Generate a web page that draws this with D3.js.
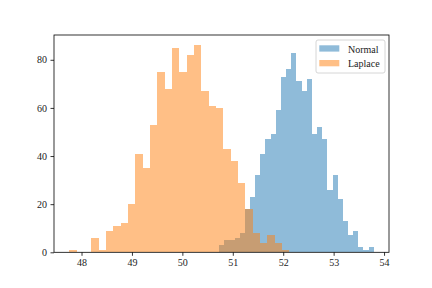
<!DOCTYPE html>
<html><head><meta charset="utf-8">
<script src="https://cdn.jsdelivr.net/npm/d3@7"></script>
<style>
body{margin:0;background:#fff;}
text{font-family:"Liberation Serif","DejaVu Serif",serif;}
</style></head>
<body><svg id="c" width="432" height="288"></svg>
<script>
// Histogram data (30 bins each)
const normalRange = [50.727, 53.796];
const normalCounts = [3,5,5,6,8,18,23,32,41,47,49,59,73,76,83,71,67,72,49,52,47,26,32,22,13,7,9,2,1,2];
const laplaceRange = [47.756, 52.119];
const laplaceCounts = [1,0,0,6,1,9,11,12,20,41,35,53,75,68,85,75,82,86,67,61,60,43,38,29,18,8,4,7,4,1];
const seriesNames = ["Normal","Laplace"];
const seriesColors = ["#1f77b4","#ff7f0e"];
const xTicks = [48,49,50,51,52,53,54];
const yTicks = [0,20,40,60,80];

const W=432,H=288;
const m={left:54,right:389,top:35,bottom:252.3};
const svg=d3.select("#c");

const dmin=Math.min(normalRange[0],laplaceRange[0]);
const dmax=Math.max(normalRange[1],laplaceRange[1]);
const pad=(dmax-dmin)*0.05;
const x=d3.scaleLinear().domain([dmin-pad,dmax+pad]).range([m.left,m.right]);
const ymax=d3.max(normalCounts.concat(laplaceCounts))*1.05;
const y=d3.scaleLinear().domain([0,ymax]).range([m.bottom,m.top]);

function bins(range,counts){
  const w=(range[1]-range[0])/counts.length;
  return counts.map((c,i)=>({x0:range[0]+i*w,x1:range[0]+(i+1)*w,c}));
}
const series=[bins(normalRange,normalCounts),bins(laplaceRange,laplaceCounts)];

series.forEach((b,si)=>{
  svg.append("g").selectAll("rect").data(b.filter(d=>d.c>0)).join("rect")
    .attr("x",d=>x(d.x0)).attr("width",d=>x(d.x1)-x(d.x0))
    .attr("y",d=>y(d.c)).attr("height",d=>y(0)-y(d.c))
    .attr("fill",seriesColors[si]).attr("fill-opacity",0.5)
    .attr("shape-rendering","crispEdges");
});

// axes
const xa=svg.append("g").attr("transform",`translate(0,${m.bottom})`)
  .call(d3.axisBottom(x).tickValues(xTicks).tickFormat(d3.format("d")).tickSizeInner(3.5).tickSizeOuter(0).tickPadding(3.5));
const ya=svg.append("g").attr("transform",`translate(${m.left},0)`)
  .call(d3.axisLeft(y).tickValues(yTicks).tickFormat(d3.format("d")).tickSizeInner(3.5).tickSizeOuter(0).tickPadding(3.5));
[xa,ya].forEach(a=>{
  a.select(".domain").remove();
  a.selectAll("line").attr("stroke","#000").attr("stroke-width",0.8);
  a.selectAll("text").attr("font-size",10).attr("fill","#222").attr("font-family","Liberation Serif, serif");
});
// frame
svg.append("rect").attr("x",m.left).attr("y",m.top).attr("width",m.right-m.left).attr("height",m.bottom-m.top)
  .attr("fill","none").attr("stroke","#000").attr("stroke-width",0.8);

// legend
const lg=svg.append("g");
lg.append("rect").attr("x",316).attr("y",40).attr("width",69).attr("height",33).attr("rx",2)
  .attr("fill","#fff").attr("fill-opacity",0.8).attr("stroke","#ccc").attr("stroke-width",0.8);
seriesNames.forEach((n,i)=>{
  lg.append("rect").attr("x",319.3).attr("y",45.3+i*14.7).attr("width",20).attr("height",6.3)
    .attr("fill",seriesColors[i]).attr("fill-opacity",0.5);
  lg.append("text").attr("x",348).attr("y",52.5+i*14.5).attr("font-size",10).attr("fill","#222").text(n);
});
</script></body></html>
